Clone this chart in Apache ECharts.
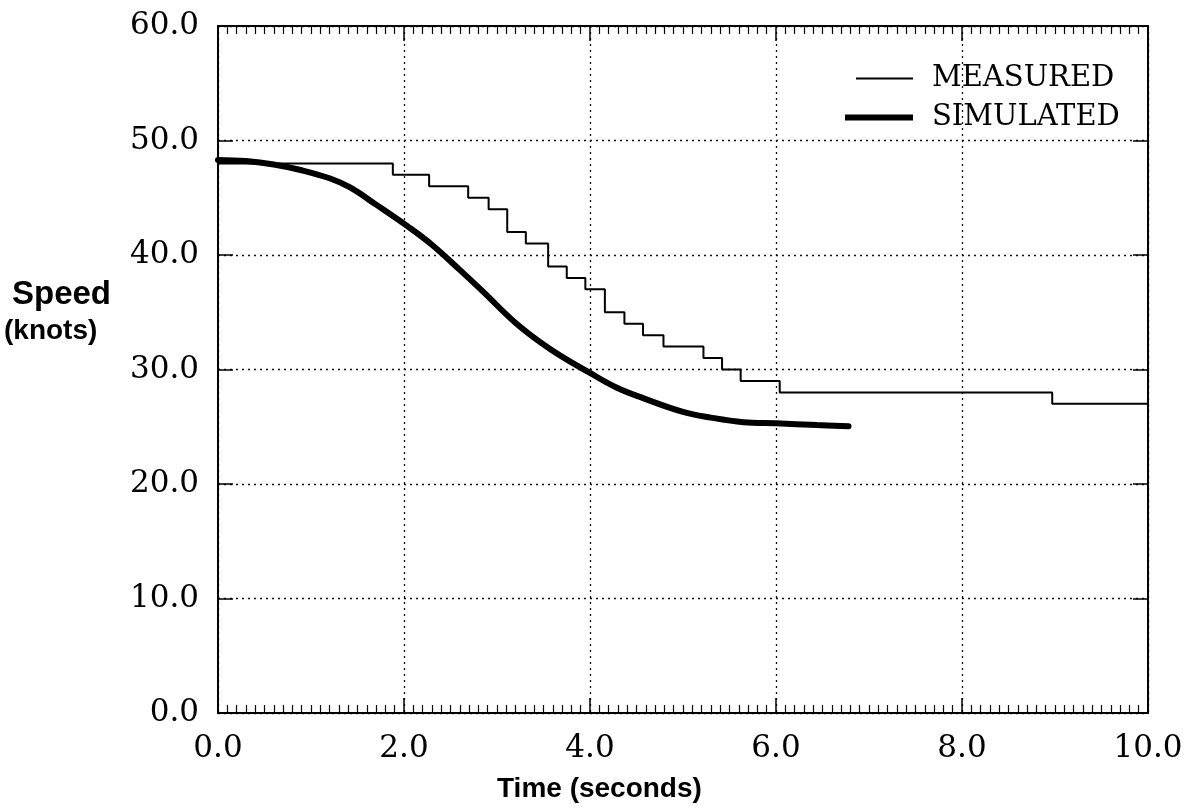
<!DOCTYPE html>
<html>
<head>
<meta charset="utf-8">
<script src="https://cdn.jsdelivr.net/npm/echarts@6/dist/echarts.min.js"></script>
<style>
html,body{margin:0;padding:0;background:#fff;}
#c{width:1195px;height:808px;}
</style>
</head>
<body>
<div id="c"></div>
<script>
// Measured: [time (s), speed (knots)] at the start of each step level
const measured = [
  [0.00, 48], [1.88, 47], [2.27, 46], [2.69, 45], [2.91, 44], [3.11, 42],
  [3.31, 41], [3.55, 39], [3.75, 38], [3.95, 37], [4.16, 35], [4.37, 34],
  [4.57, 33], [4.79, 32], [5.22, 31], [5.42, 30], [5.62, 29], [6.04, 28],
  [8.97, 27], [10.0, 27]
];
// Simulated: smooth curve
const simulated = [
  [0.00, 48.3], [0.30, 48.2], [0.60, 47.9], [0.90, 47.4], [1.20, 46.7],
  [1.42, 45.9], [1.70, 44.4], [2.04, 42.5], [2.30, 40.9], [2.60, 38.7],
  [2.85, 36.8], [3.21, 34.0], [3.57, 31.8], [4.00, 29.7], [4.29, 28.4],
  [4.57, 27.5], [5.00, 26.3], [5.30, 25.8], [5.65, 25.4], [6.00, 25.3],
  [6.44, 25.15], [6.78, 25.05]
];
const seriesNames = ['MEASURED', 'SIMULATED'];
const xTitle = 'Time (seconds)';
const yTitle = 'Speed';
const yUnit = '(knots)';

const serif = '"DejaVu Serif", serif';
const sans = '"Liberation Sans", Arial, sans-serif';

const chart = echarts.init(document.getElementById('c'), null, {renderer: 'canvas'});

function xAxisCfg(pos, showLabels) {
  return {
    type: 'value', position: pos, min: 0, max: 10, interval: 2,
    axisLine: {show: true, onZero: false, lineStyle: {color: '#000', width: 2}},
    axisTick: {show: true, inside: true, length: 15, lineStyle: {color: '#000', width: 1.5}},
    minorTick: {show: true, splitNumber: 20, length: 8, lineStyle: {color: '#000', width: 1.2}},
    axisLabel: {show: showLabels, margin: 20, color: '#000', fontFamily: serif, fontSize: 31,
      formatter: v => v.toFixed(1)},
    splitLine: {show: pos === 'bottom', lineStyle: {color: '#111', type: [2, 4], width: 1.3}}
  };
}
function yAxisCfg(pos, showLabels) {
  return {
    type: 'value', position: pos, min: 0, max: 60, interval: 10,
    axisLine: {show: true, onZero: false, lineStyle: {color: '#000', width: 2}},
    axisTick: {show: true, inside: true, length: 15, lineStyle: {color: '#000', width: 1.5}},
    axisLabel: {show: showLabels, margin: 19, color: '#000', fontFamily: serif, fontSize: 31,
      formatter: v => v.toFixed(1)},
    splitLine: {show: pos === 'left', lineStyle: {color: '#111', type: [2, 4], width: 1.3}}
  };
}

function legendCfg(name, top, iconW, iconH, pad) {
  return {
    show: true, orient: 'vertical', left: 913 - iconW, top: top, padding: 0,
    itemWidth: iconW, itemHeight: iconH, selectedMode: false,
    data: [{name: name, icon: 'rect', itemStyle: {color: '#000'}}],
    textStyle: {fontFamily: serif, fontSize: 29, color: '#000', padding: [0, 0, 0, pad]}
  };
}

chart.setOption({
  backgroundColor: '#fff',
  animation: false,
  grid: {left: 218, right: 47, top: 26, bottom: 95, containLabel: false},
  xAxis: [xAxisCfg('bottom', true), xAxisCfg('top', false)],
  yAxis: [yAxisCfg('left', true), yAxisCfg('right', false)],
  legend: [
    legendCfg(seriesNames[0], 64, 57, 2, 14),
    legendCfg(seriesNames[1], 103, 68, 6, 14)
  ],
  series: [
    {
      name: seriesNames[0], type: 'line', xAxisIndex: 0, yAxisIndex: 0,
      data: measured, step: 'end', symbol: 'none', showSymbol: false,
      lineStyle: {color: '#000', width: 2}, itemStyle: {color: '#000'}
    },
    {
      name: seriesNames[1], type: 'line', xAxisIndex: 0, yAxisIndex: 0,
      data: simulated, smooth: 0.4, symbol: 'none', showSymbol: false,
      lineStyle: {color: '#000', width: 6, cap: 'round'}, itemStyle: {color: '#000'}
    }
  ],
  graphic: [
    {type: 'text', left: 12, top: 278, style: {text: yTitle, font: 'bold 33px ' + sans, fill: '#000'}},
    {type: 'text', left: 4, top: 317, style: {text: yUnit, font: 'bold 28px ' + sans, fill: '#000'}},
    {type: 'text', left: 497, top: 775, style: {text: xTitle, font: 'bold 28px ' + sans, fill: '#000'}}
  ]
});
</script>
</body>
</html>
